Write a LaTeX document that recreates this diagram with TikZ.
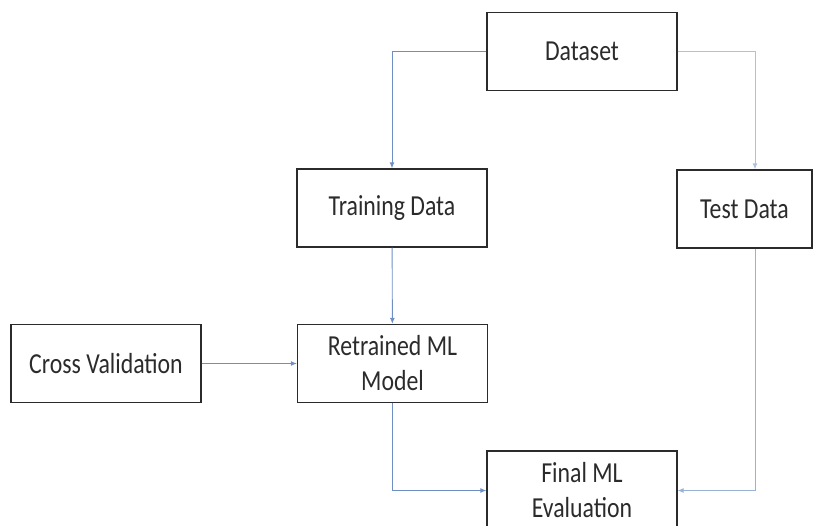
\documentclass[tikz,border=0pt]{standalone}
\usepackage{fontspec}
\usetikzlibrary{arrows.meta}
\newfontfamily\boxfont[FakeStretch=0.82]{Carlito}
\definecolor{linkblue}{HTML}{6F8FC4}
\definecolor{boxgray}{HTML}{2B2B2B}

\begin{document}
\begin{tikzpicture}[x=1pt,y=-1pt,
  box/.style={draw=boxgray,line width=1.3pt,minimum width=190pt,minimum height=78pt,
    align=center,text=boxgray,font=\boxfont\fontsize{29}{35}\selectfont,inner sep=0pt},
  link/.style={draw=linkblue,line width=0.9pt,-{Latex[length=6pt,width=5pt]}}]
\useasboundingbox (0,0) rectangle (824,526);

\node[box] (dataset) at (582,51.5) {Dataset};
\node[box] (train) at (392,208) {Training Data};
\node[box,minimum width=135pt] (test) at (744.5,209) {Test Data};
\node[box] (crossval) at (106,363.5) {Cross Validation};
\node[box] (retrained) at (392.5,363.5) {Retrained ML\\Model};
\node[box,minimum height=79pt] (final) at (582,490.5) {Final ML\\Evaluation};

\draw[link] (dataset.west) -| (train.north);
\draw[link,draw=linkblue!55] (dataset.east) -| ([xshift=10.5pt]test.north);
\draw[link] (train) -- (retrained);
\draw[link] (crossval) -- (retrained);
\draw[link] (retrained.south) |- (final.west);
\draw[link,draw=linkblue!70] ([xshift=10.5pt]test.south) |- (final.east);

\end{tikzpicture}
\end{document}
